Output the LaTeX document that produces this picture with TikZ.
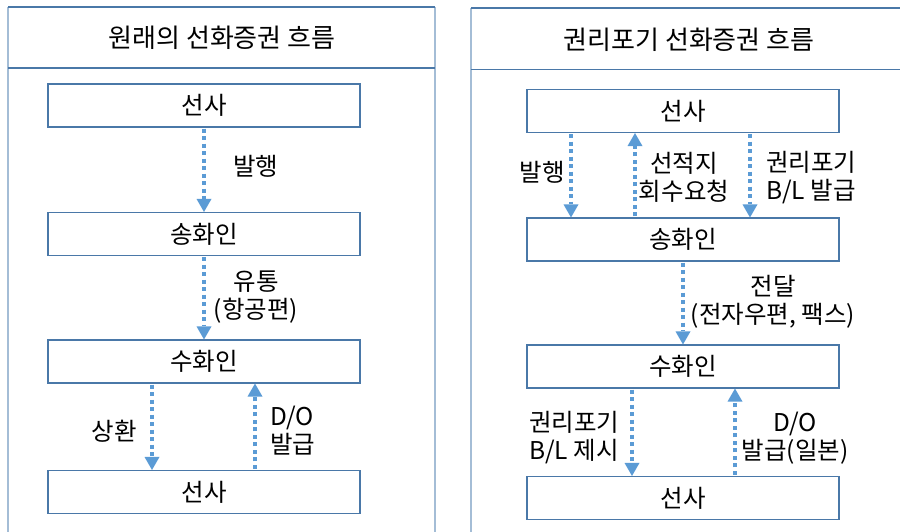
\documentclass[tikz,border=0pt]{standalone}
\usepackage{fontspec}
\setmainfont{Noto Sans CJK KR}
\usetikzlibrary{arrows.meta}
\definecolor{boxline}{HTML}{4A78A8}
\definecolor{sideline}{HTML}{A4BDD6}
\definecolor{arrblue}{HTML}{5B9BD5}
\tikzset{
  stagebox/.style={draw=boxline, line width=1.1pt, minimum width=312pt, minimum height=43pt, inner sep=0pt, font=\fontsize{24.5}{28}\selectfont},
  flow/.style={draw=arrblue, line width=4.5pt, dash pattern=on 4pt off 3.5pt, -{Triangle[width=15pt,length=13pt,line width=0pt,fill=arrblue]}, shorten <=1pt},
  lbl/.style={font=\fontsize{24.5}{28}\selectfont, inner sep=0pt},
  ttl/.style={font=\fontsize{26}{30}\selectfont, inner sep=0pt},
  hline/.style={draw=boxline, line width=1.1pt},
  vline/.style={draw=sideline, line width=2.2pt}
}
\begin{document}
\begin{tikzpicture}[x=1pt,y=-1pt]
\useasboundingbox (0,0) rectangle (900,532);
% panels
\draw[vline] (8,7) -- (8,540);
\draw[vline] (435,7) -- (435,540);
\draw[hline] (8,7) -- (435,7);
\draw[hline] (8,68) -- (435,68);
\draw[vline] (471,8) -- (471,540);
\draw[hline] (471,8) -- (905,8);
\draw[hline] (471,69.5) -- (905,69.5);
\node[ttl] (t1) at (222,38) {원래의 선화증권 흐름};
\node[ttl] (t2) at (689,40) {권리포기 선화증권 흐름};
% left boxes
\node[stagebox] (a1) at (204,105.5) {선사};
\node[stagebox] (a2) at (204,234) {송화인};
\node[stagebox] (a3) at (204,361.5) {수화인};
\node[stagebox] (a4) at (204,492) {선사};
\draw[flow] (a1.south) -- (a2.north);
\draw[flow] (a2.south) -- (a3.north);
\draw[flow] ([xshift=-52pt]a3.south) -- ([xshift=-52pt]a4.north);
\draw[flow] ([xshift=51pt]a4.north) -- ([xshift=51pt]a3.south);
\node[lbl,anchor=west] (l1) at (233,166) {발행};
\node[lbl,align=center] (l2) at (256,297) {유통\\(항공편)};
\node[lbl] (l3) at (114,431) {상환};
\node[lbl,align=left,anchor=west] (l4) at (270,431) {D/O\\발급};
% right boxes
\node[stagebox] (b1) at (683,111) {선사};
\node[stagebox] (b2) at (683,239.5) {송화인};
\node[stagebox] (b3) at (683,366.5) {수화인};
\node[stagebox] (b4) at (683,498) {선사};
\draw[flow] ([xshift=-112pt]b1.south) -- ([xshift=-112pt]b2.north);
\draw[flow] ([xshift=-48pt]b2.north) -- ([xshift=-48pt]b1.south);
\draw[flow] ([xshift=67pt]b1.south) -- ([xshift=67pt]b2.north);
\draw[flow] (b2.south) -- (b3.north);
\draw[flow] ([xshift=-51pt]b3.south) -- ([xshift=-51pt]b4.north);
\draw[flow] ([xshift=52pt]b4.north) -- ([xshift=52pt]b3.south);
\node[lbl] (m1) at (542,172) {발행};
\node[lbl,align=center] (m2) at (684,177) {선적지\\회수요청};
\node[lbl,align=left,anchor=west] (m3) at (766,178) {권리포기\\B/L 발급};
\node[lbl,align=center] (m4) at (773,302) {전달\\(전자우편, 팩스)};
\node[lbl,align=left,anchor=west] (m5) at (529,438) {권리포기\\B/L 제시};
\node[lbl,align=center] (m6) at (795,438) {D/O\\발급(일본)};
\end{tikzpicture}
\end{document}
